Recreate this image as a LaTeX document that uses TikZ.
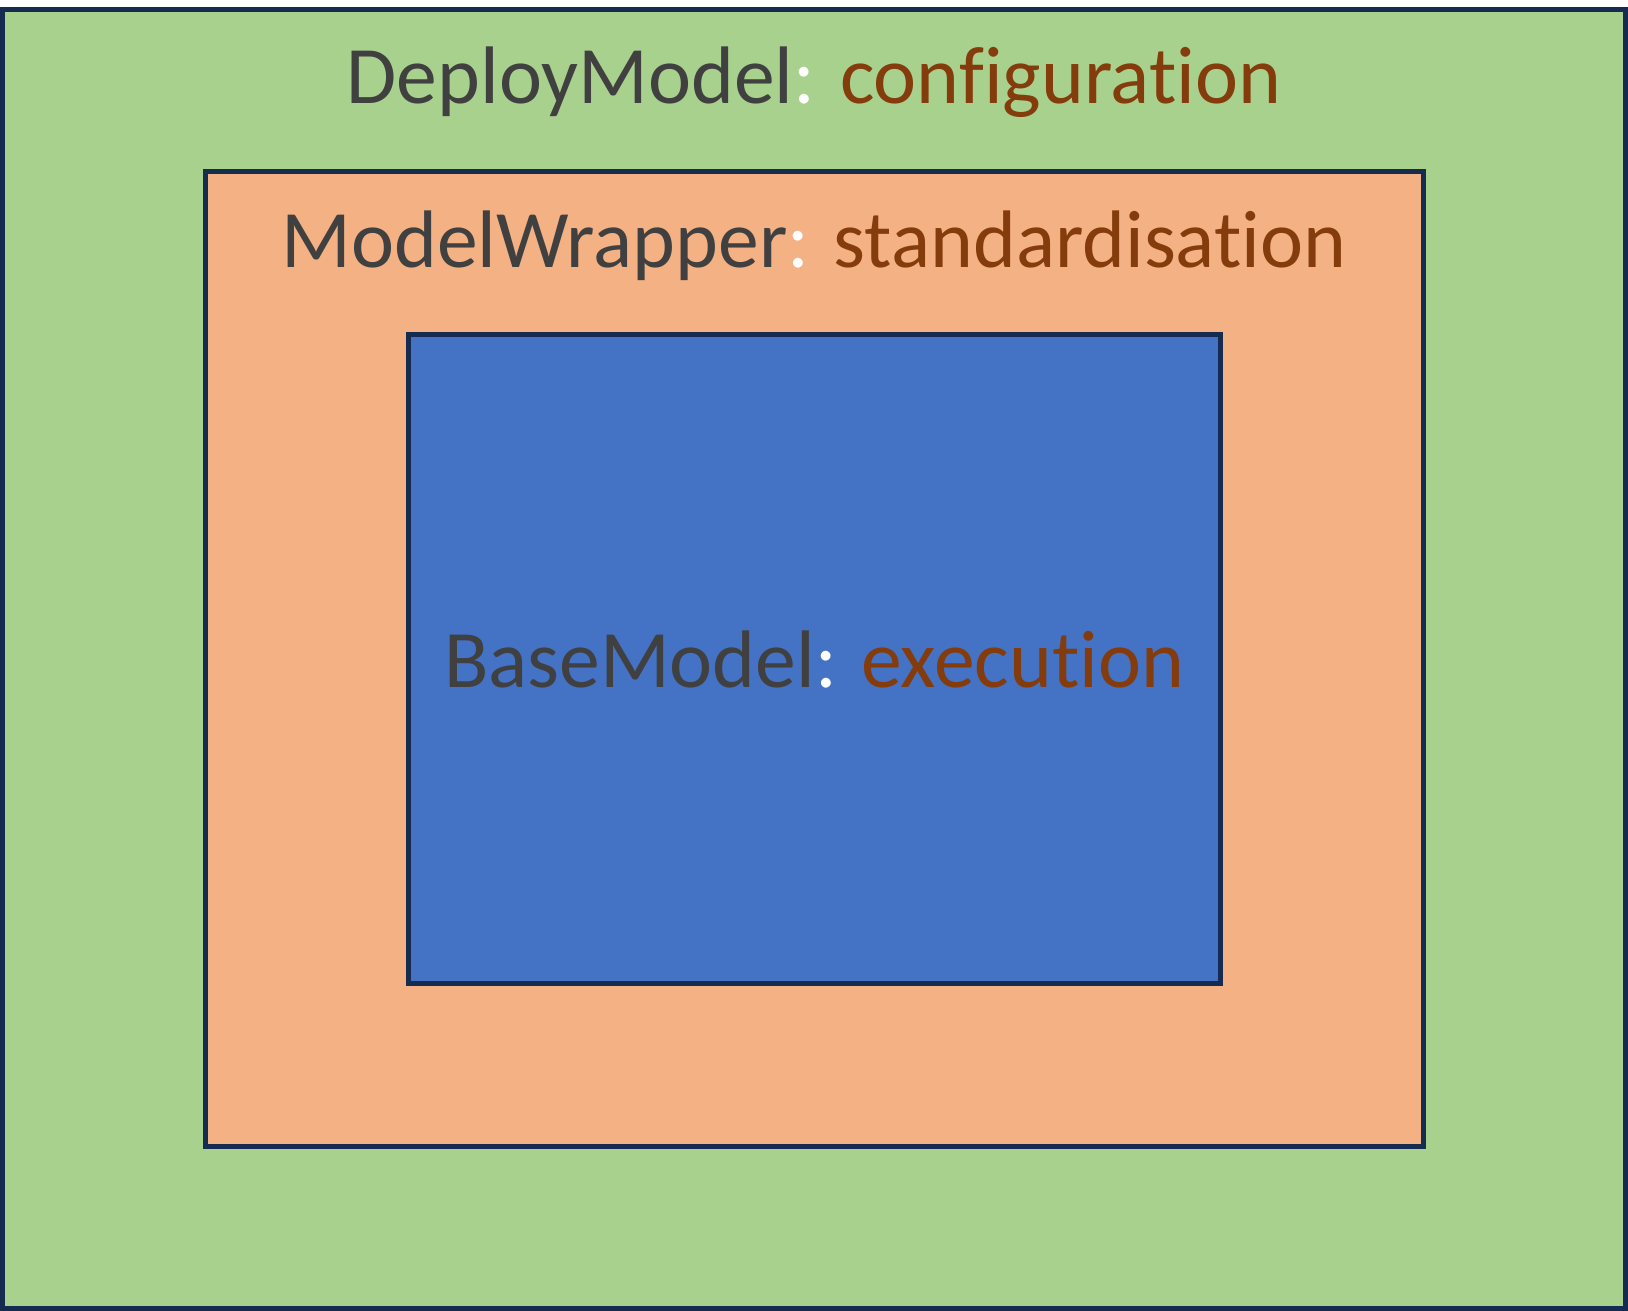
\documentclass[tikz,border=0pt]{standalone}
\usepackage{fontspec}
\setmainfont[Ligatures=NoCommon]{Carlito}
\definecolor{outerfill}{HTML}{A9D18E}
\definecolor{midfill}{HTML}{F4B183}
\definecolor{innerfill}{HTML}{4472C4}
\definecolor{edge}{RGB}{22,43,80}
\definecolor{namecol}{HTML}{404040}
\definecolor{rolecol}{HTML}{843C0C}
\tikzset{
  layer/.style={draw=edge, line width=2.5pt, rectangle, inner sep=0pt, outer sep=0pt},
  label/.style={anchor=base, inner sep=0pt, font=\fontsize{40.8pt}{48pt}\selectfont},
}
\newcommand{\lyrtext}[2]{\textcolor{namecol}{#1}\textcolor{white}{:} \textcolor{rolecol}{#2}}
\begin{document}
\begin{tikzpicture}[x=0.5pt,y=-0.5pt]
\useasboundingbox (0,0) rectangle (1628,1311);
\node[layer, fill=outerfill, minimum width=811.5pt, minimum height=649.5pt] (deploy) at (814,659) {};
\node[layer, fill=midfill, minimum width=609pt, minimum height=487.5pt] (wrapper) at (814.5,659) {};
\node[layer, fill=innerfill, minimum width=406pt, minimum height=324.5pt] (base) at (814.5,659) {};
\node[label] (deploytext) at (814,104) {\lyrtext{DeployModel}{configuration}};
\node[label] (wrappertext) at (814,267) {\lyrtext{ModelWrapper}{standardisation}};
\node[label] (basetext) at (814,687) {\lyrtext{BaseModel}{execution}};
\end{tikzpicture}
\end{document}
